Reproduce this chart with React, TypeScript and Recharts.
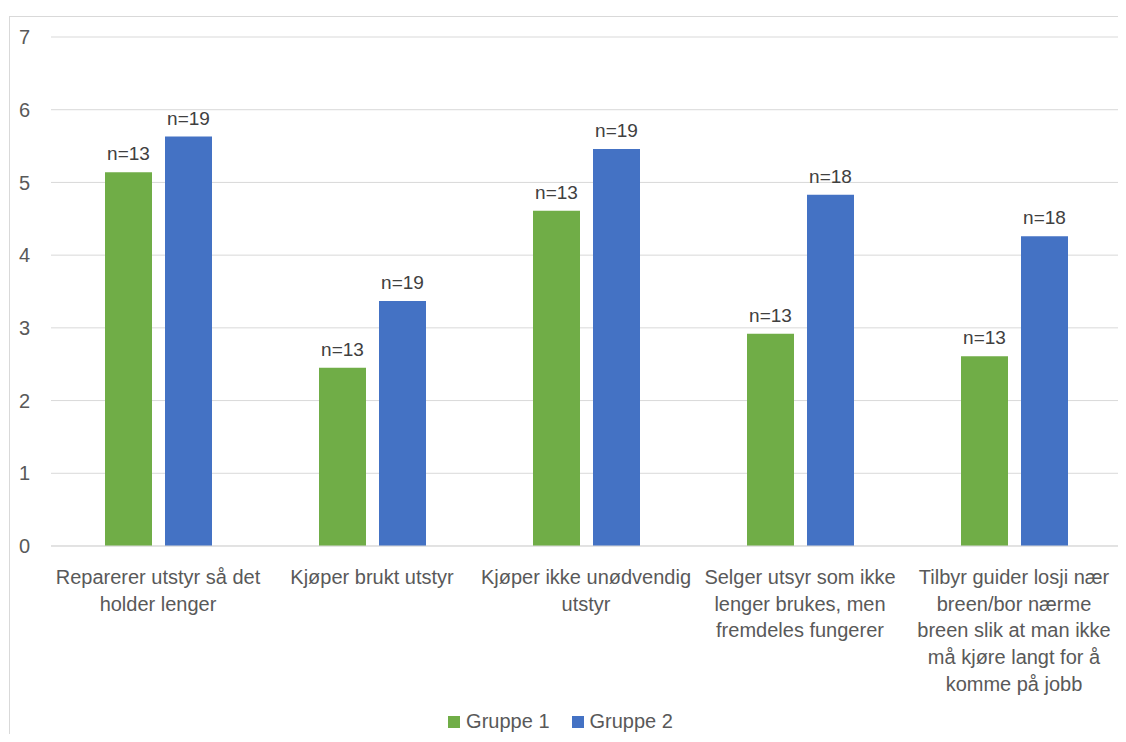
import React from "react";
import {
  BarChart, Bar, XAxis, YAxis, CartesianGrid, Legend, LabelList,
} from "recharts";

const categories = [
  "Reparerer utstyr så det holder lenger",
  "Kjøper brukt utstyr",
  "Kjøper ikke unødvendig utstyr",
  "Selger utsyr som ikke lenger brukes, men fremdeles fungerer",
  "Tilbyr guider losji nær breen/bor nærme breen slik at man ikke må kjøre langt for å komme på jobb",
];

// how each category label wraps in the picture
const categoryLines = [
  ["Reparerer utstyr så det", "holder lenger"],
  ["Kjøper brukt utstyr"],
  ["Kjøper ikke unødvendig", "utstyr"],
  ["Selger utsyr som ikke", "lenger brukes, men", "fremdeles fungerer"],
  ["Tilbyr guider losji nær", "breen/bor nærme", "breen slik at man ikke", "må kjøre langt for å", "komme på jobb"],
];

const gruppe1 = [5.14, 2.45, 4.61, 2.92, 2.61];
const gruppe2 = [5.63, 3.37, 5.46, 4.83, 4.26];
const n1 = [13, 13, 13, 13, 13];
const n2 = [19, 19, 19, 18, 18];
const yTicks = [0, 1, 2, 3, 4, 5, 6, 7];

const GREEN = "#70AD47";
const BLUE = "#4472C4";
const FONT = "'Liberation Sans', Arial, sans-serif";

const data = categories.map((c, i) => ({
  name: c,
  g1: gruppe1[i],
  g2: gruppe2[i],
  n1: `n=${n1[i]}`,
  n2: `n=${n2[i]}`,
}));

function CategoryTick({ x, y, payload }: any) {
  const i = categories.indexOf(payload.value);
  const lines = categoryLines[i] || [payload.value];
  return (
    <text x={x} y={y + 30} textAnchor="middle" fill="#595959" fontSize={20} fontFamily={FONT}>
      {lines.map((l, k) => (
        <tspan key={k} x={x} dy={k === 0 ? 0 : 26.7}>{l}</tspan>
      ))}
    </text>
  );
}

function LegendBox() {
  const items = [
    { label: "Gruppe 1", color: GREEN },
    { label: "Gruppe 2", color: BLUE },
  ];
  return (
    <div style={{ height: 46, display: "flex", justifyContent: "center", alignItems: "flex-start", paddingTop: 14, boxSizing: "border-box" }}>
      {items.map((it) => (
        <div key={it.label} style={{ display: "flex", alignItems: "center", margin: "0 11px", fontFamily: FONT, fontSize: 20, color: "#595959", lineHeight: "23px" }}>
          <span style={{ width: 12, height: 12, background: it.color, display: "inline-block", marginRight: 6 }} />
          {it.label}
        </div>
      ))}
    </div>
  );
}

export default function App() {
  return (
    <div style={{ position: "relative", margin: -8, width: 1126, height: 742, overflow: "hidden", background: "#fff" }}>
      <div style={{ position: "absolute", left: 9, top: 16, width: 1200, height: 800, border: "1px solid #d9d9d9" }} />
      <div style={{ position: "absolute", left: 0, top: 0 }}>
        <BarChart
          width={1126}
          height={742}
          data={data}
          margin={{ top: 37, right: 5, bottom: 0, left: 0 }}
          barCategoryGap="25%"
          barGap={13}
        >
          <CartesianGrid vertical={false} stroke="#d9d9d9" />
          <XAxis
            dataKey="name"
            axisLine={{ stroke: "#d9d9d9" }}
            tickLine={false}
            interval={0}
            height={150}
            tick={<CategoryTick />}
          />
          <YAxis
            domain={[0, 7]}
            ticks={yTicks}
            width={51}
            axisLine={false}
            tickLine={false}
            tickSize={0}
            tickMargin={21}
            tick={{ fill: "#595959", fontSize: 20, fontFamily: FONT }}
          />
          <Legend verticalAlign="bottom" content={<LegendBox />} />
          <Bar dataKey="g1" name="Gruppe 1" fill={GREEN} barSize={47} isAnimationActive={false}>
            <LabelList dataKey="n1" position="top" offset={12} fill="#404040" fontSize={19} fontFamily={FONT} />
          </Bar>
          <Bar dataKey="g2" name="Gruppe 2" fill={BLUE} barSize={47} isAnimationActive={false}>
            <LabelList dataKey="n2" position="top" offset={12} fill="#404040" fontSize={19} fontFamily={FONT} />
          </Bar>
        </BarChart>
      </div>
    </div>
  );
}
